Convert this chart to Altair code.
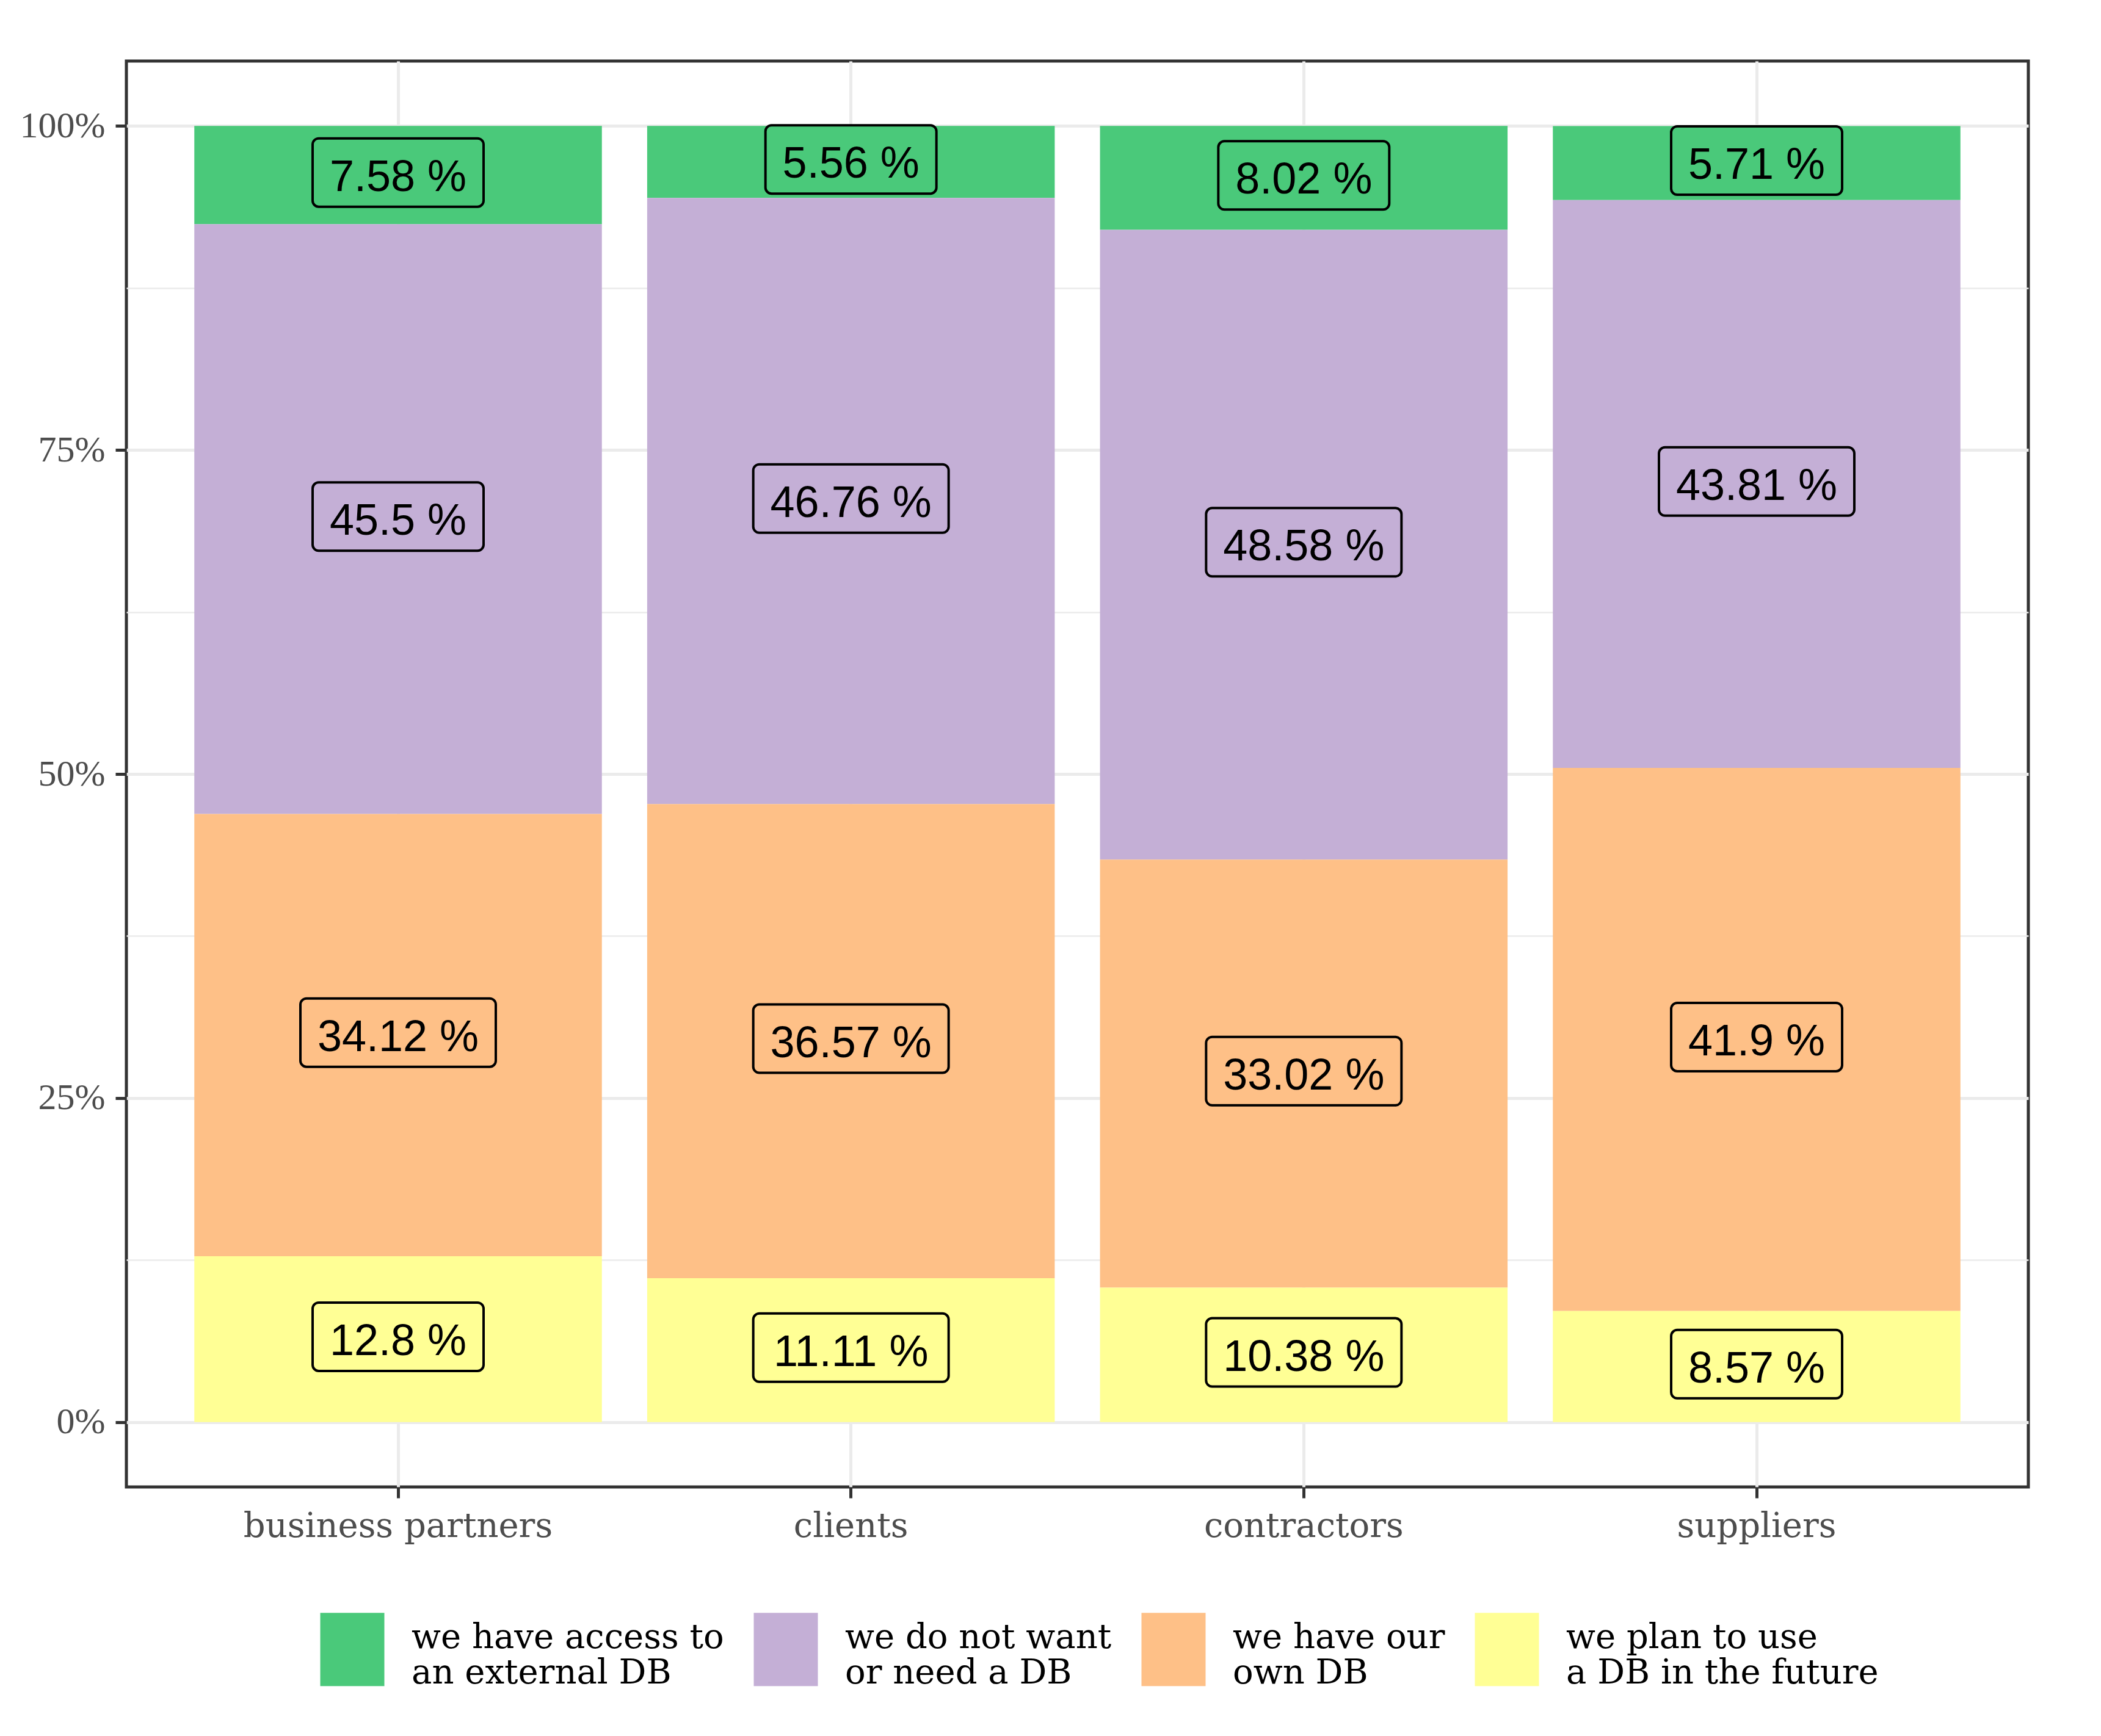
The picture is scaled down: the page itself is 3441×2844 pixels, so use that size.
import altair as alt
import pandas as pd

categories = ["business partners", "clients", "contractors", "suppliers"]
segments = [
    "we have access to\nan external DB",
    "we do not want\nor need a DB",
    "we have our\nown DB",
    "we plan to use\na DB in the future",
]
colors = ["#4AC97A", "#C4AFD6", "#FEC087", "#FFFF95"]
external_db = [7.58, 5.56, 8.02, 5.71]
not_need_db = [45.5, 46.76, 48.58, 43.81]
own_db = [34.12, 36.57, 33.02, 41.9]
plan_db = [12.8, 11.11, 10.38, 8.57]
y_tick_values = [0, 12.5, 25, 37.5, 50, 62.5, 75, 87.5, 100]

series = [external_db, not_need_db, own_db, plan_db]
rows = []
for si, (seg, vals) in enumerate(zip(segments, series)):
    for cat, v in zip(categories, vals):
        rows.append({"category": cat, "segment": seg, "pct": v,
                     "stack_rank": len(segments) - 1 - si})
df = pd.DataFrame(rows)

base = (
    alt.Chart(df)
    .transform_stack(stack="pct", groupby=["category"], as_=["y0", "y1"],
                     sort=[alt.SortField("stack_rank", order="ascending")])
    .transform_calculate(
        mid="(datum.y0 + datum.y1) / 2",
        label="datum.pct + ' %'",
    )
    .transform_calculate(boxw="(length(datum.label) - 3) * 40 + 160")
)

x_enc = alt.X(
    "category:N", sort=categories, title=None,
    scale=alt.Scale(paddingInner=0.1, paddingOuter=0.15),
    axis=alt.Axis(labelAngle=0, grid=True, labelPadding=19, labelLimit=2000),
)
y_scale = alt.Scale(domain=[-5, 105], nice=False, zero=False)

bars = base.mark_bar().encode(
    x=x_enc,
    y=alt.Y(
        "y0:Q", scale=y_scale, title=None,
        axis=alt.Axis(
            values=y_tick_values,
            labelExpr="datum.value % 25 === 0 ? datum.value + '%' : ''",
            gridWidth=alt.condition("datum.value % 25 === 0", alt.value(5), alt.value(2.5)),
            tickOpacity=alt.condition("datum.value % 25 === 0", alt.value(1), alt.value(0)),
            labelPadding=17, labelFont="Liberation Serif", labelFontSize=60,
        ),
    ),
    y2="y1:Q",
    color=alt.Color(
        "segment:N",
        scale=alt.Scale(domain=segments, range=colors),
        legend=alt.Legend(
            orient="none", legendX=310, legendY=2523,
            direction="horizontal", columns=4, title=None,
            symbolType="M-0.875,-0.68H0.875V1.32H-0.875Z",
            symbolSize=14400, symbolStrokeWidth=0, symbolOpacity=1,
            labelFont="DejaVu Serif", labelFontSize=56, labelColor="black",
            labelLimit=2000, labelOffset=37, columnPadding=41,
            labelExpr="split(datum.label, '\\n')", padding=0, rowPadding=0,
        ),
    ),
)

boxes = base.mark_bar(
    fillOpacity=0, stroke="black", strokeWidth=4, cornerRadius=10,
    yOffset=-60, y2Offset=52,
).encode(
    x=alt.X("category:N", sort=categories, title=None),
    y=alt.Y("mid:Q", scale=y_scale, title=None),
    y2="mid:Q",
    size=alt.Size("boxw:Q", scale=None),
)

labels = base.mark_text(
    font="Liberation Sans", fontSize=72, color="black", baseline="middle", dy=4,
).encode(
    x=alt.X("category:N", sort=categories, title=None),
    y=alt.Y("mid:Q", scale=y_scale, title=None),
    text="label:N",
)

chart = (
    alt.layer(bars, boxes, labels)
    .properties(
        width=3115, height=2336,
        autosize=alt.AutoSizeParams(type="none"),
        padding={"left": 199, "top": 92, "right": 111, "bottom": 400},
        background="white",
    )
    .configure_view(stroke="#333333", strokeWidth=5)
    .configure_axis(
        domain=False,
        gridColor="#EBEBEB", gridWidth=5,
        tickColor="#333333", tickWidth=5, tickSize=18,
        labelFont="DejaVu Serif", labelFontSize=56, labelColor="#4D4D4D",
        titleFont="DejaVu Serif",
    )
)

chart.save("out.html", embed_options={"renderer": "svg", "actions": False})
